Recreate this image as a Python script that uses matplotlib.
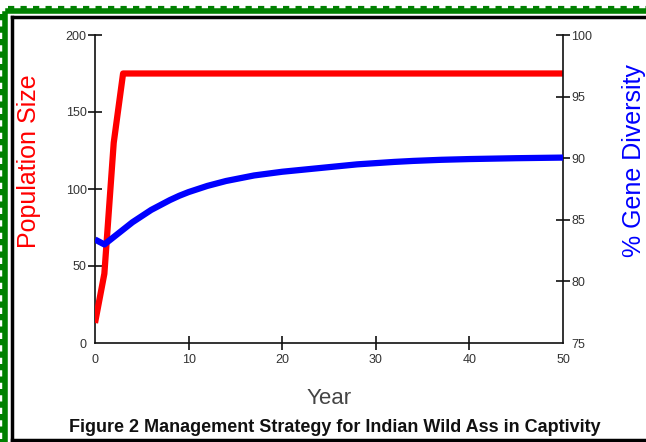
import matplotlib
matplotlib.use("Agg")
import matplotlib.pyplot as plt
from matplotlib.lines import Line2D

plt.rcParams['font.family'] = ['Liberation Sans', 'DejaVu Sans']

# Data
pop_years = [0, 1, 2, 3, 50]
pop_size = [13, 45, 130, 175, 175]

div_years = [0, 1, 2, 3, 4, 5, 6, 7, 8, 9, 10, 11, 12, 13, 14, 15, 16, 17, 18, 19, 20,
             22, 24, 26, 28, 30, 32, 34, 37, 40, 45, 50]
gene_div = [83.4, 83.0, 83.6, 84.2, 84.8, 85.3, 85.8, 86.2, 86.6, 86.95, 87.25, 87.5, 87.75,
            87.95, 88.15, 88.3, 88.45, 88.6, 88.7, 88.8, 88.9,
            89.05, 89.2, 89.35, 89.5, 89.6, 89.7, 89.78, 89.87, 89.93, 90.0, 90.05]

x_ticks = [0, 10, 20, 30, 40, 50]
left_ticks = [0, 50, 100, 150, 200]
right_ticks = [75, 80, 85, 90, 95, 100]

W, H = 646, 442
fig = plt.figure(figsize=(W / 100, H / 100), dpi=100)
fig.patch.set_facecolor('white')

left, right, bottom, top = 95, 563, 343, 35
ax = fig.add_axes([left / W, 1 - bottom / H, (right - left) / W, (bottom - top) / H])
ax2 = ax.twinx()

ax.plot(pop_years, pop_size, color='#ff0000', lw=4.5, solid_capstyle='butt', zorder=3)
ax2.plot(div_years, gene_div, color='#0000ff', lw=4.5, solid_capstyle='butt', zorder=3)

ax.set_xlim(0, 50)
ax.set_ylim(0, 200)
ax2.set_ylim(75, 100)
ax.set_xticks(x_ticks)
ax.set_yticks(left_ticks)
ax2.set_yticks(right_ticks)

for a in (ax, ax2):
    a.spines['top'].set_visible(False)
    for s in a.spines.values():
        s.set_linewidth(1.2)
        s.set_color('#111111')
ax.spines['right'].set_visible(False)
ax2.spines['left'].set_visible(False)
ax2.spines['bottom'].set_visible(False)

tick_kw = dict(direction='inout', length=10, width=1.2, color='#111111',
               labelsize=9, labelcolor='#333333', pad=1)
ax.tick_params(axis='both', **tick_kw)
ax2.tick_params(axis='y', **tick_kw)
ax.tick_params(axis='x', pad=3)

# hide corner ticks like the reference
ax.xaxis.get_major_ticks()[0].tick1line.set_visible(False)
ax.xaxis.get_major_ticks()[-1].tick1line.set_visible(False)
ax.yaxis.get_major_ticks()[0].tick1line.set_visible(False)
ax2.yaxis.get_major_ticks()[0].tick2line.set_visible(False)

ax.set_xlabel('Year', fontsize=16, color='#444444', labelpad=16)

fig.text(29 / W, 1 - 161 / H, 'Population Size', rotation=90, color='#ff0000',
         fontsize=18, ha='center', va='center')
fig.text(634 / W, 1 - 161 / H, '% Gene Diversity', rotation=90, color='#0000ff',
         fontsize=18, ha='center', va='center')
fig.text(335 / W, 1 - 427 / H,
         'Figure 2 Management Strategy for Indian Wild Ass in Captivity',
         fontsize=13, fontweight='bold', color='#111111', ha='center', va='center')

# Border decorations (green crenellated + black inner frame)
def px(x, y):
    return (x / W, 1 - y / H)

green_kw = dict(color='#008000', lw=4, transform=fig.transFigure)
fig.add_artist(Line2D([px(8, 11)[0], 1], [px(8, 11)[1]] * 2, **green_kw))
fig.add_artist(Line2D([px(5, 0)[0]] * 2, [px(0, 14)[1], 0], **green_kw))
fig.add_artist(Line2D([px(8, 11)[0], 1], [px(8, 8)[1]] * 2, color='#008000', lw=3,
                      linestyle=(0, (1.5, 1.5)), transform=fig.transFigure))
fig.add_artist(Line2D([px(2, 0)[0]] * 2, [px(0, 14)[1], 0], color='#008000', lw=3,
                      linestyle=(0, (1.5, 1.5)), transform=fig.transFigure))
black_kw = dict(color='black', lw=2.5, transform=fig.transFigure)
fig.add_artist(Line2D([px(12, 0)[0], 1], [px(0, 17)[1]] * 2, **black_kw))
fig.add_artist(Line2D([px(12, 0)[0]] * 2, [px(0, 17)[1], px(0, 440)[1]], **black_kw))
fig.add_artist(Line2D([px(12, 0)[0], 1], [px(0, 440)[1]] * 2, **black_kw))

fig.savefig('out.png', dpi=100)
